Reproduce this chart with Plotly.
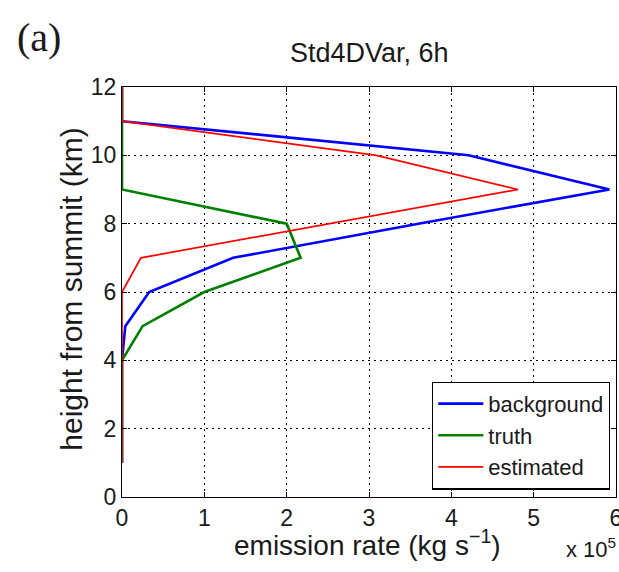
import plotly.graph_objects as go

# Height above the summit (km) for each emission layer
height_km = [1, 2, 3, 4, 5, 6, 7, 8, 9, 10, 11, 12]

# Emission rate per layer, in units of 1e5 kg/s
background = [0, 0, 0, 0, 0.04, 0.33, 1.35, 3.6, 5.92, 4.21, 0, 0]
truth = [0, 0, 0, 0, 0.25, 1.0, 2.17, 2.0, 0, 0, 0, 0]
estimated = [0, 0, 0, 0, 0, 0, 0.23, 2.5, 4.81, 3.09, 0, 0]

x_ticks = [0, 1, 2, 3, 4, 5, 6]
y_ticks = [0, 2, 4, 6, 8, 10, 12]

font_main = "Liberation Sans, Arial, sans-serif"
text_color = "#1a1a1a"

fig = go.Figure()
fig.add_trace(go.Scatter(x=background, y=height_km, mode="lines", name="background",
                         line=dict(color="#0000ff", width=2.6)))
fig.add_trace(go.Scatter(x=truth, y=height_km, mode="lines", name="truth",
                         line=dict(color="#008000", width=2.6)))
fig.add_trace(go.Scatter(x=estimated, y=height_km, mode="lines", name="estimated",
                         line=dict(color="#ff0000", width=1.7)))

axis_common = dict(
    showgrid=True, gridcolor="black", gridwidth=1, griddash="2px,4px",
    zeroline=False, showline=True, linecolor="black", linewidth=1.2,
    mirror="allticks", ticks="inside", ticklen=5, tickcolor="black",
    ticklabeloverflow="allow", automargin=False,
    tickfont=dict(family=font_main, size=23, color=text_color),
)

fig.update_layout(
    width=619, height=572,
    margin=dict(l=122, r=3, t=87, b=75, autoexpand=False),
    paper_bgcolor="white", plot_bgcolor="white",
    showlegend=True,
    legend=dict(x=0.988, y=0.018, xanchor="right", yanchor="bottom",
                bgcolor="white", bordercolor="black", borderwidth=1.2,
                font=dict(family=font_main, size=22, color=text_color),
                tracegroupgap=0, itemwidth=45),
    xaxis=dict(range=[0, 6], tickvals=x_ticks, **axis_common),
    yaxis=dict(range=[0, 12], tickvals=y_ticks, **axis_common),
    annotations=[
        dict(text="Std4DVar, 6h", x=0.5, y=1.083, xref="paper", yref="paper",
             xanchor="center", yanchor="middle", showarrow=False,
             font=dict(family=font_main, size=27, color=text_color)),
        dict(text="emission rate (kg s<sup>\u22121</sup>)", x=0.497, xref="paper",
             y=-0.112, yref="paper", xanchor="center", yanchor="middle", showarrow=False,
             font=dict(family=font_main, size=28, color=text_color)),
        dict(text="height from summit (km)", x=-0.102, xref="paper", y=0.507, yref="paper",
             textangle=-90, xanchor="center", yanchor="middle", showarrow=False,
             font=dict(family=font_main, size=30, color=text_color)),
        dict(text="x 10<sup>5</sup>", x=1.004, xref="paper", y=-0.124, yref="paper",
             xanchor="right", yanchor="middle", showarrow=False,
             font=dict(family=font_main, size=22, color=text_color)),
        dict(text="(a)", x=-0.2166, xref="paper", y=1.12, yref="paper",
             xanchor="left", yanchor="middle", showarrow=False,
             font=dict(family="Liberation Serif, Times New Roman, serif", size=40,
                       color=text_color)),
    ],
)

fig.write_html("out.html")
